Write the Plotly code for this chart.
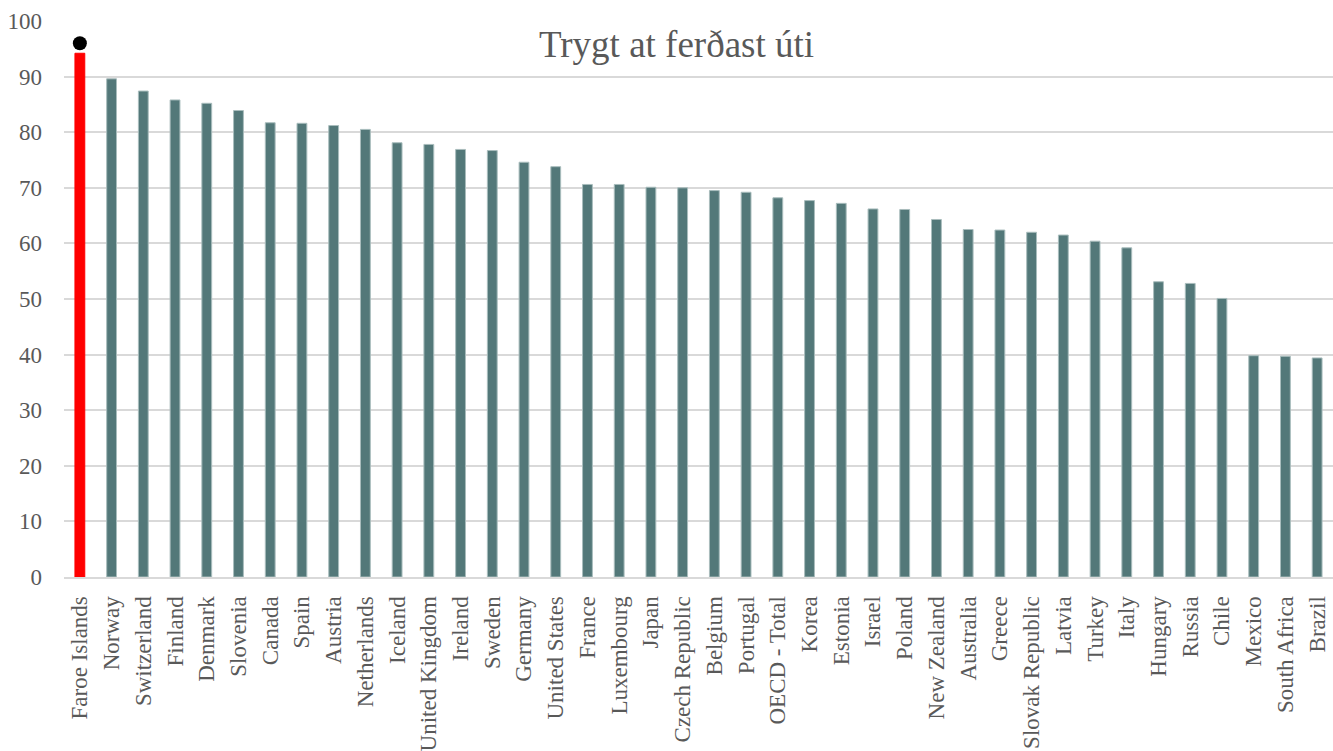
import plotly.graph_objects as go

countries = ["Faroe Islands", "Norway", "Switzerland", "Finland", "Denmark", "Slovenia",
             "Canada", "Spain", "Austria", "Netherlands", "Iceland", "United Kingdom",
             "Ireland", "Sweden", "Germany", "United States", "France", "Luxembourg",
             "Japan", "Czech Republic", "Belgium", "Portugal", "OECD - Total", "Korea",
             "Estonia", "Israel", "Poland", "New Zealand", "Australia", "Greece",
             "Slovak Republic", "Latvia", "Turkey", "Italy", "Hungary", "Russia",
             "Chile", "Mexico", "South Africa", "Brazil"]
values = [94.2, 89.6, 87.4, 85.8, 85.2, 83.9,
          81.7, 81.6, 81.2, 80.5, 78.1, 77.8,
          76.9, 76.7, 74.6, 73.8, 70.6, 70.6,
          70.1, 70.0, 69.5, 69.2, 68.2, 67.7,
          67.2, 66.2, 66.1, 64.3, 62.5, 62.4,
          62.0, 61.5, 60.4, 59.2, 53.1, 52.8,
          50.1, 39.8, 39.7, 39.4]
highlight = "Faroe Islands"
marker_value = [96.0]
title_text = "Trygt at ferðast úti"
y_ticks = [0, 10, 20, 30, 40, 50, 60, 70, 80, 90, 100]

bar_colors = ["#ff0000" if c == highlight else "#537879" for c in countries]
line_colors = ["#ff0000" if c == highlight else "#a9bdbd" for c in countries]

fig = go.Figure()
fig.add_trace(go.Bar(
    x=countries, y=values,
    marker=dict(color=bar_colors, line=dict(color=line_colors, width=1)),
    width=0.31,
    showlegend=False,
    hoverinfo="x+y",
))
fig.add_trace(go.Scatter(
    x=[highlight], y=marker_value, mode="markers",
    marker=dict(color="black", size=14),
    showlegend=False,
))

font_family = "Liberation Serif, Times New Roman, serif"
fig.update_layout(
    width=1333, height=751,
    margin=dict(l=64, r=0, t=21, b=174),
    paper_bgcolor="white", plot_bgcolor="white",
    font=dict(family=font_family, size=23, color="#595959"),
    xaxis=dict(
        type="category",
        tickangle=-90,
        showgrid=False,
        showline=True, linecolor="#d9d9d9", linewidth=2,
        ticks="",
        ticklabelstandoff=8,
        tickfont=dict(family=font_family, size=23, color="#595959"),
        range=[-0.5, len(countries) - 0.5],
    ),
    yaxis=dict(
        range=[0, 100],
        tickvals=y_ticks,
        showgrid=True, gridcolor="#d9d9d9", gridwidth=1.5,
        zeroline=False,
        showline=False,
        ticks="",
        ticklabelstandoff=21,
        tickfont=dict(family=font_family, size=23, color="#595959"),
    ),
    annotations=[dict(
        text=title_text, x=0.483, y=0.957, xref="paper", yref="paper",
        xanchor="center", yanchor="middle", showarrow=False,
        font=dict(family=font_family, size=37, color="#595959"),
    )],
)

fig.write_html(
    "out.html",
    config={"displayModeBar": False},
    post_script="document.body.style.margin='0';document.body.style.overflow='hidden';",
)
